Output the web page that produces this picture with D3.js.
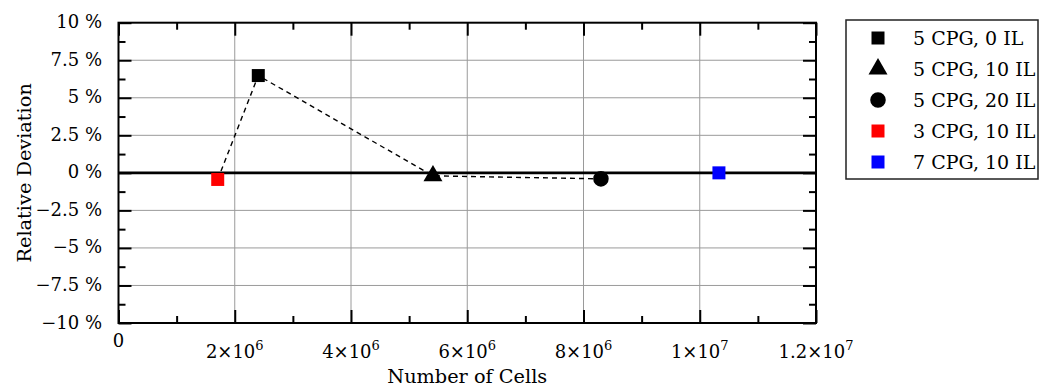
<!DOCTYPE html>
<html>
<head>
<meta charset="utf-8">
<script src="https://cdn.jsdelivr.net/npm/d3@7"></script>
<style>
  html, body { margin: 0; padding: 0; background: #fff; }
  svg { display: block; }
  text { font-family: "DejaVu Serif", serif; fill: #000; }
</style>
</head>
<body>
<script>
// ---- data ----
const seriesLabels = ["5 CPG, 0 IL", "5 CPG, 10 IL", "5 CPG, 20 IL", "3 CPG, 10 IL", "7 CPG, 10 IL"];
const seriesShapes = ["square", "triangle", "circle", "square", "square"];
const seriesColors = ["#000000", "#000000", "#000000", "#ff0000", "#0000ff"];
const numberOfCells = [2.405e6, 5.41e6, 8.30e6, 1.707e6, 10.33e6];
const relativeDeviation = [6.48, -0.2, -0.40, -0.44, 0.0];
// series joined by the dashed line, in drawing order
const dashedOrder = ["3 CPG, 10 IL", "5 CPG, 0 IL", "5 CPG, 10 IL", "5 CPG, 20 IL"];

const xMajorTicks = [0, 2e6, 4e6, 6e6, 8e6, 1e7, 1.2e7];
const xMinorTicks = [1e6, 3e6, 5e6, 7e6, 9e6, 1.1e7];
const xTickMantissa = ["0", "2×10", "4×10", "6×10", "8×10", "1×10", "1.2×10"];
const xTickExponent = ["", "6", "6", "6", "6", "7", "7"];
const yMajorTicks = [-10, -7.5, -5, -2.5, 0, 2.5, 5, 7.5, 10];
const yMinorTicks = [-8.75, -6.25, -3.75, -1.25, 1.25, 3.75, 6.25, 8.75];
const yTickLabels = ["−10 %", "−7.5 %", "−5 %", "−2.5 %", "0 %", "2.5 %", "5 %", "7.5 %", "10 %"];

const xTitle = "Number of Cells";
const yTitle = "Relative Deviation";

// ---- layout ----
const W = 1051, H = 392;
const L = 118.5, R = 816, T = 22.7, B = 323;
const FS = 18, FT = 19.3, FL = 19;

const svg = d3.select("body").append("svg").attr("width", W).attr("height", H);

const x = d3.scaleLinear().domain([0, 1.2e7]).range([L, R]);
const y = d3.scaleLinear().domain([-10, 10]).range([B, T]);

// grid
const grid = svg.append("g").attr("stroke", "#9a9a9a").attr("stroke-width", 1);
grid.selectAll("line.v").data(xMajorTicks.filter(v => v > 0 && v < 1.2e7)).join("line")
  .attr("x1", d => x(d)).attr("x2", d => x(d)).attr("y1", T).attr("y2", B);
grid.selectAll("line.h").data(yMajorTicks.filter(v => v > -10 && v < 10 && v !== 0)).join("line")
  .attr("y1", d => y(d)).attr("y2", d => y(d)).attr("x1", L).attr("x2", R);

// axes ticks (inward), via d3 axes
function tickAxis(axisFn, scale, values, size, transform) {
  const g = svg.append("g").attr("transform", transform)
    .call(axisFn(scale).tickValues(values).tickSize(size).tickFormat(""));
  g.select(".domain").remove();
  g.selectAll(".tick line").attr("stroke", "#000").attr("stroke-width", 2);
  return g;
}
tickAxis(d3.axisBottom, x, xMajorTicks, -13, `translate(0,${B})`);
tickAxis(d3.axisBottom, x, xMinorTicks, -7, `translate(0,${B})`);
tickAxis(d3.axisTop, x, xMajorTicks, -13, `translate(0,${T})`);
tickAxis(d3.axisTop, x, xMinorTicks, -7, `translate(0,${T})`);
tickAxis(d3.axisLeft, y, yMajorTicks, -13, `translate(${L},0)`);
tickAxis(d3.axisLeft, y, yMinorTicks, -7, `translate(${L},0)`);
tickAxis(d3.axisRight, y, yMajorTicks, -13, `translate(${R},0)`);
tickAxis(d3.axisRight, y, yMinorTicks, -7, `translate(${R},0)`);

// zero line
svg.append("line").attr("x1", L).attr("x2", R).attr("y1", y(0)).attr("y2", y(0))
  .attr("stroke", "#000").attr("stroke-width", 2.6);

// frame
svg.append("rect").attr("x", L).attr("y", T).attr("width", R - L).attr("height", B - T)
  .attr("fill", "none").attr("stroke", "#000").attr("stroke-width", 2);

// tick labels
const xl = svg.append("g").attr("font-size", FS).attr("text-anchor", "middle");
xMajorTicks.forEach((v, i) => {
  const t = xl.append("text").attr("x", x(v)).attr("y", i === 0 ? 347 : 358);
  t.append("tspan").text(xTickMantissa[i]);
  if (xTickExponent[i]) {
    t.append("tspan").attr("dy", -8).attr("font-size", 13).text(xTickExponent[i]);
  }
});
const yl = svg.append("g").attr("font-size", FS).attr("text-anchor", "end");
yMajorTicks.forEach((v, i) => {
  yl.append("text").attr("x", 102).attr("y", y(v) + 5.5).text(yTickLabels[i]);
});

// axis titles
svg.append("text").attr("x", (L + R) / 2).attr("y", 383).attr("text-anchor", "middle")
  .attr("font-size", FT).text(xTitle);
svg.append("text").attr("transform", `translate(31,${(T + B) / 2}) rotate(-90)`)
  .attr("text-anchor", "middle").attr("font-size", FT).text(yTitle);

// symbols
const symType = { square: d3.symbolSquare, triangle: d3.symbolTriangle, circle: d3.symbolCircle };
const symSize = { square: 169, triangle: 156, circle: 190 };
const sym = s => d3.symbol().type(symType[s]).size(symSize[s])();

// dashed line
const lineData = dashedOrder.map(lbl => {
  const i = seriesLabels.indexOf(lbl);
  return [numberOfCells[i], relativeDeviation[i]];
});
svg.append("path").datum(lineData)
  .attr("d", d3.line().x(d => x(d[0])).y(d => y(d[1])))
  .attr("fill", "none").attr("stroke", "#000").attr("stroke-width", 1.4)
  .attr("stroke-dasharray", "5,4");

// points
svg.append("g").selectAll("path").data(seriesLabels).join("path")
  .attr("transform", (d, i) => `translate(${x(numberOfCells[i])},${y(relativeDeviation[i])})`)
  .attr("d", (d, i) => sym(seriesShapes[i]))
  .attr("fill", (d, i) => seriesColors[i]);

// legend
const lg = svg.append("g");
lg.append("rect").attr("x", 846).attr("y", 20).attr("width", 192).attr("height", 159)
  .attr("fill", "#fff").attr("stroke", "#222").attr("stroke-width", 1.5);
seriesLabels.forEach((lbl, i) => {
  const cy = 38 + i * 31;
  lg.append("path").attr("transform", `translate(878,${cy})`)
    .attr("d", sym(seriesShapes[i])).attr("fill", seriesColors[i]);
  lg.append("text").attr("x", 913).attr("y", cy + 6.5).attr("font-size", FL).text(lbl);
});
</script>
</body>
</html>
